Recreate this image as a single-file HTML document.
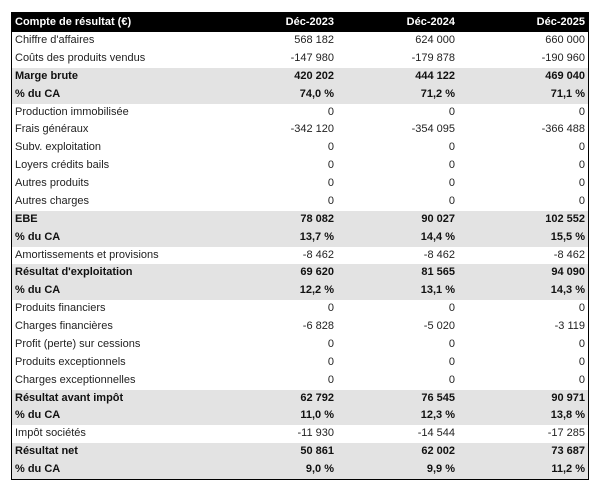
<!DOCTYPE html>
<html><head><meta charset="utf-8"><style>
body{margin:0;background:#fff;width:600px;height:491px;overflow:hidden;font-family:"Liberation Sans",sans-serif;}
.t{position:absolute;left:11px;top:12px;width:576px;border:1.5px solid #000;font-size:11px;color:#222;display:grid;grid-template-columns:210px 115px 121px 130px;grid-template-rows:19px;grid-auto-rows:17.875px;}
.t div{padding:0 3px;white-space:nowrap;text-align:right;line-height:17.875px;overflow:hidden}
.t div.h{line-height:19px}
.t div.l{text-align:left}
.h{background:#000;color:#fff;font-weight:bold;}
.g{background:#e3e3e3;font-weight:bold;color:#111}
</style></head><body>
<div class="t" id="t"></div>
<script>
var rows=[
["h","Compte de résultat (€)","Déc-2023","Déc-2024","Déc-2025"],
["","Chiffre d'affaires","568 182","624 000","660 000"],
["","Coûts des produits vendus","-147 980","-179 878","-190 960"],
["g","Marge brute","420 202","444 122","469 040"],
["g","% du CA","74,0 %","71,2 %","71,1 %"],
["","Production immobilisée","0","0","0"],
["","Frais généraux","-342 120","-354 095","-366 488"],
["","Subv. exploitation","0","0","0"],
["","Loyers crédits bails","0","0","0"],
["","Autres produits","0","0","0"],
["","Autres charges","0","0","0"],
["g","EBE","78 082","90 027","102 552"],
["g","% du CA","13,7 %","14,4 %","15,5 %"],
["","Amortissements et provisions","-8 462","-8 462","-8 462"],
["g","Résultat d'exploitation","69 620","81 565","94 090"],
["g","% du CA","12,2 %","13,1 %","14,3 %"],
["","Produits financiers","0","0","0"],
["","Charges financières","-6 828","-5 020","-3 119"],
["","Profit (perte) sur cessions","0","0","0"],
["","Produits exceptionnels","0","0","0"],
["","Charges exceptionnelles","0","0","0"],
["g","Résultat avant impôt","62 792","76 545","90 971"],
["g","% du CA","11,0 %","12,3 %","13,8 %"],
["","Impôt sociétés","-11 930","-14 544","-17 285"],
["g","Résultat net","50 861","62 002","73 687"],
["g","% du CA","9,0 %","9,9 %","11,2 %"]];
var h="";rows.forEach(function(r){for(var i=1;i<5;i++)h+='<div class="'+r[0]+(i==1?' l':'')+'">'+r[i]+'</div>';});
document.getElementById("t").innerHTML=h;
</script>
</body></html>
